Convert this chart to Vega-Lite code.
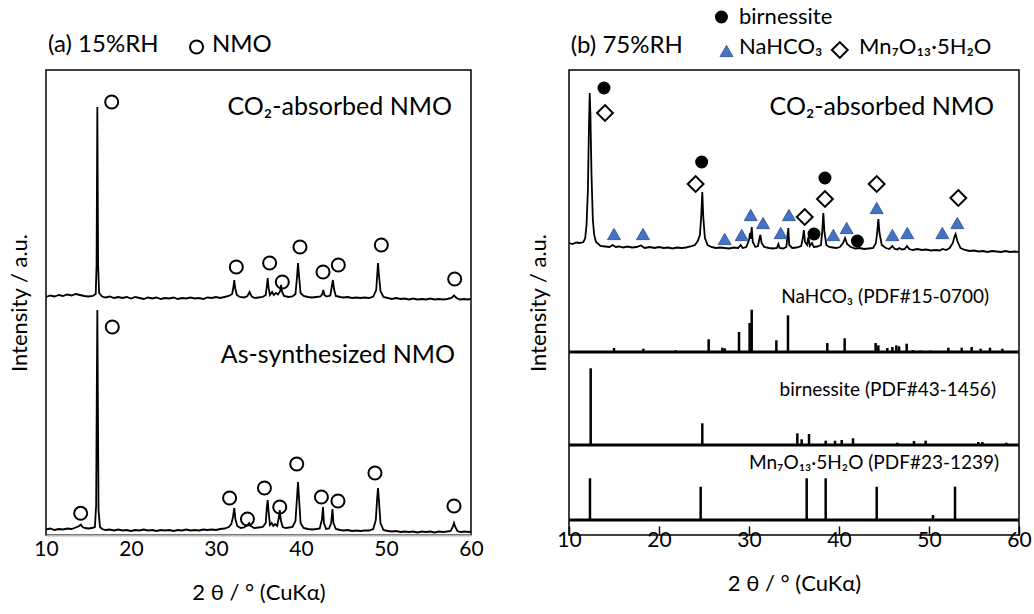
{
  "$schema": "https://vega.github.io/schema/vega-lite/v6.json",
  "background": "white",
  "padding": {"left": 7, "top": 5, "right": 10, "bottom": 10},
  "config": {
    "font": "Lato",
    "view": {"stroke": "black", "strokeWidth": 1.5},
    "axis": {"labelColor": "black", "titleColor": "black", "titleFontWeight": "normal", "grid": false, "labelFont": "Lato", "titleFont": "Lato"},
    "text": {"color": "black"}
  },
  "datasets": {
    "a_traces": [
      {"s":"c","x":10,"y":238},{"s":"c","x":10.5,"y":239.5},{"s":"c","x":11,"y":238.5},{"s":"c","x":11.5,"y":240},{"s":"c","x":12,"y":239},{"s":"c","x":12.5,"y":240.5},{"s":"c","x":13,"y":239.5},{"s":"c","x":13.5,"y":241},{"s":"c","x":14,"y":240},{"s":"c","x":14.5,"y":239},{"s":"c","x":15,"y":238.5},{"s":"c","x":15.5,"y":239},{"s":"c","x":15.85,"y":241},{"s":"c","x":15.95,"y":270},{"s":"c","x":16.0,"y":360},{"s":"c","x":16.04,"y":428},{"s":"c","x":16.08,"y":360},{"s":"c","x":16.13,"y":270},{"s":"c","x":16.25,"y":242},{"s":"c","x":16.6,"y":238.5},{"s":"c","x":17,"y":237.5},{"s":"c","x":17.5,"y":238.5},{"s":"c","x":18,"y":237},{"s":"c","x":18.5,"y":238},{"s":"c","x":19,"y":237},{"s":"c","x":19.5,"y":238},{"s":"c","x":20,"y":236.5},{"s":"c","x":20.5,"y":238},{"s":"c","x":21,"y":237},{"s":"c","x":21.5,"y":236},{"s":"c","x":22,"y":237.5},{"s":"c","x":22.5,"y":236.5},{"s":"c","x":23,"y":237.5},{"s":"c","x":23.5,"y":236},{"s":"c","x":24,"y":237},{"s":"c","x":24.5,"y":236.5},{"s":"c","x":25,"y":237.5},{"s":"c","x":25.5,"y":236},{"s":"c","x":26,"y":237},{"s":"c","x":26.5,"y":236.5},{"s":"c","x":27,"y":237.5},{"s":"c","x":27.5,"y":236.5},{"s":"c","x":28,"y":237},{"s":"c","x":28.5,"y":236},{"s":"c","x":29,"y":237.5},{"s":"c","x":29.5,"y":237},{"s":"c","x":30,"y":238},{"s":"c","x":30.5,"y":237},{"s":"c","x":31,"y":238},{"s":"c","x":31.5,"y":239},{"s":"c","x":31.9,"y":241},{"s":"c","x":32.05,"y":248},{"s":"c","x":32.15,"y":255},{"s":"c","x":32.25,"y":247},{"s":"c","x":32.45,"y":240},{"s":"c","x":32.8,"y":238},{"s":"c","x":33.3,"y":237.5},{"s":"c","x":33.7,"y":239},{"s":"c","x":33.95,"y":243},{"s":"c","x":34.2,"y":238.5},{"s":"c","x":34.6,"y":237},{"s":"c","x":35,"y":237.5},{"s":"c","x":35.5,"y":238},{"s":"c","x":35.85,"y":240},{"s":"c","x":36.0,"y":250},{"s":"c","x":36.08,"y":257},{"s":"c","x":36.17,"y":248},{"s":"c","x":36.35,"y":240},{"s":"c","x":36.6,"y":243},{"s":"c","x":36.8,"y":240},{"s":"c","x":37.05,"y":242},{"s":"c","x":37.3,"y":240.5},{"s":"c","x":37.55,"y":244},{"s":"c","x":37.65,"y":250},{"s":"c","x":37.78,"y":243},{"s":"c","x":38.0,"y":239},{"s":"c","x":38.5,"y":238},{"s":"c","x":39,"y":238.5},{"s":"c","x":39.35,"y":241},{"s":"c","x":39.55,"y":260},{"s":"c","x":39.65,"y":272},{"s":"c","x":39.78,"y":258},{"s":"c","x":39.95,"y":242},{"s":"c","x":40.3,"y":239},{"s":"c","x":40.8,"y":238},{"s":"c","x":41.3,"y":237.5},{"s":"c","x":41.8,"y":238},{"s":"c","x":42.3,"y":238.5},{"s":"c","x":42.5,"y":241},{"s":"c","x":42.63,"y":245},{"s":"c","x":42.75,"y":240},{"s":"c","x":43.0,"y":238.5},{"s":"c","x":43.45,"y":239.5},{"s":"c","x":43.65,"y":250},{"s":"c","x":43.76,"y":255},{"s":"c","x":43.88,"y":246},{"s":"c","x":44.1,"y":239},{"s":"c","x":44.6,"y":238},{"s":"c","x":45,"y":237.5},{"s":"c","x":45.5,"y":238},{"s":"c","x":46,"y":237},{"s":"c","x":46.5,"y":237.5},{"s":"c","x":47,"y":237},{"s":"c","x":47.5,"y":237.5},{"s":"c","x":48,"y":237},{"s":"c","x":48.5,"y":238.5},{"s":"c","x":48.85,"y":245},{"s":"c","x":48.98,"y":262},{"s":"c","x":49.06,"y":272},{"s":"c","x":49.15,"y":262},{"s":"c","x":49.35,"y":244},{"s":"c","x":49.7,"y":238},{"s":"c","x":50.2,"y":237},{"s":"c","x":50.7,"y":236},{"s":"c","x":51.2,"y":237},{"s":"c","x":51.7,"y":236},{"s":"c","x":52.2,"y":236.5},{"s":"c","x":52.7,"y":235.5},{"s":"c","x":53.2,"y":236.5},{"s":"c","x":53.7,"y":235.5},{"s":"c","x":54.2,"y":236},{"s":"c","x":54.7,"y":235.5},{"s":"c","x":55.2,"y":236.5},{"s":"c","x":55.7,"y":235.5},{"s":"c","x":56.2,"y":236},{"s":"c","x":56.7,"y":235.5},{"s":"c","x":57.2,"y":236},{"s":"c","x":57.7,"y":237},{"s":"c","x":58.0,"y":239.5},{"s":"c","x":58.3,"y":237},{"s":"c","x":58.7,"y":235.5},{"s":"c","x":59.2,"y":236},{"s":"c","x":59.6,"y":235.5},{"s":"c","x":60,"y":236},
      {"s":"a","x":10,"y":5.5},{"s":"a","x":10.5,"y":6.5},{"s":"a","x":11,"y":5},{"s":"a","x":11.5,"y":6},{"s":"a","x":12,"y":5.5},{"s":"a","x":12.5,"y":6.5},{"s":"a","x":13,"y":6},{"s":"a","x":13.5,"y":7.5},{"s":"a","x":13.9,"y":9},{"s":"a","x":14.1,"y":10.5},{"s":"a","x":14.3,"y":8},{"s":"a","x":14.6,"y":7},{"s":"a","x":15,"y":6.5},{"s":"a","x":15.4,"y":7},{"s":"a","x":15.75,"y":8},{"s":"a","x":15.9,"y":30},{"s":"a","x":15.98,"y":150},{"s":"a","x":16.04,"y":225},{"s":"a","x":16.1,"y":140},{"s":"a","x":16.18,"y":25},{"s":"a","x":16.35,"y":8},{"s":"a","x":16.6,"y":6},{"s":"a","x":17,"y":5},{"s":"a","x":17.5,"y":5.5},{"s":"a","x":18,"y":4.5},{"s":"a","x":18.5,"y":5.5},{"s":"a","x":19,"y":4.5},{"s":"a","x":19.5,"y":5},{"s":"a","x":20,"y":4},{"s":"a","x":20.5,"y":5},{"s":"a","x":21,"y":4.5},{"s":"a","x":21.5,"y":5.5},{"s":"a","x":22,"y":4.5},{"s":"a","x":22.5,"y":5},{"s":"a","x":23,"y":4},{"s":"a","x":23.5,"y":5},{"s":"a","x":24,"y":4.5},{"s":"a","x":24.5,"y":5},{"s":"a","x":25,"y":4},{"s":"a","x":25.5,"y":5},{"s":"a","x":26,"y":4.5},{"s":"a","x":26.5,"y":5.5},{"s":"a","x":27,"y":4.5},{"s":"a","x":27.5,"y":5},{"s":"a","x":28,"y":4.5},{"s":"a","x":28.5,"y":5.5},{"s":"a","x":29,"y":5},{"s":"a","x":29.5,"y":5.5},{"s":"a","x":30,"y":5},{"s":"a","x":30.5,"y":6},{"s":"a","x":31,"y":6.5},{"s":"a","x":31.5,"y":8},{"s":"a","x":31.8,"y":11},{"s":"a","x":32.0,"y":18},{"s":"a","x":32.15,"y":27},{"s":"a","x":32.28,"y":16},{"s":"a","x":32.5,"y":9},{"s":"a","x":32.9,"y":7},{"s":"a","x":33.3,"y":7.5},{"s":"a","x":33.7,"y":10},{"s":"a","x":33.9,"y":12},{"s":"a","x":34.1,"y":9},{"s":"a","x":34.5,"y":7},{"s":"a","x":35,"y":7.5},{"s":"a","x":35.5,"y":8},{"s":"a","x":35.85,"y":12},{"s":"a","x":35.98,"y":28},{"s":"a","x":36.08,"y":35},{"s":"a","x":36.18,"y":24},{"s":"a","x":36.35,"y":10},{"s":"a","x":36.55,"y":12},{"s":"a","x":36.75,"y":9},{"s":"a","x":36.95,"y":11},{"s":"a","x":37.2,"y":9},{"s":"a","x":37.4,"y":18},{"s":"a","x":37.5,"y":25},{"s":"a","x":37.62,"y":15},{"s":"a","x":37.85,"y":8},{"s":"a","x":38.2,"y":7},{"s":"a","x":38.6,"y":7.5},{"s":"a","x":39.0,"y":8},{"s":"a","x":39.35,"y":14},{"s":"a","x":39.55,"y":40},{"s":"a","x":39.65,"y":53},{"s":"a","x":39.76,"y":38},{"s":"a","x":39.95,"y":12},{"s":"a","x":40.3,"y":7},{"s":"a","x":40.8,"y":6},{"s":"a","x":41.3,"y":5.5},{"s":"a","x":41.8,"y":6},{"s":"a","x":42.2,"y":6.5},{"s":"a","x":42.45,"y":15},{"s":"a","x":42.59,"y":28},{"s":"a","x":42.7,"y":12},{"s":"a","x":42.95,"y":6},{"s":"a","x":43.3,"y":6.5},{"s":"a","x":43.55,"y":12},{"s":"a","x":43.7,"y":26},{"s":"a","x":43.82,"y":12},{"s":"a","x":44.1,"y":6},{"s":"a","x":44.6,"y":5},{"s":"a","x":45,"y":4.5},{"s":"a","x":45.5,"y":5},{"s":"a","x":46,"y":4},{"s":"a","x":46.5,"y":4.5},{"s":"a","x":47,"y":4},{"s":"a","x":47.5,"y":4.5},{"s":"a","x":48,"y":4.5},{"s":"a","x":48.5,"y":6},{"s":"a","x":48.8,"y":15},{"s":"a","x":48.97,"y":38},{"s":"a","x":49.06,"y":47},{"s":"a","x":49.15,"y":37},{"s":"a","x":49.35,"y":12},{"s":"a","x":49.7,"y":5},{"s":"a","x":50.2,"y":4},{"s":"a","x":50.7,"y":3.5},{"s":"a","x":51.2,"y":4},{"s":"a","x":51.7,"y":3},{"s":"a","x":52.2,"y":3.5},{"s":"a","x":52.7,"y":3},{"s":"a","x":53.2,"y":3.5},{"s":"a","x":53.7,"y":2.5},{"s":"a","x":54.2,"y":3.5},{"s":"a","x":54.7,"y":3},{"s":"a","x":55.2,"y":3.5},{"s":"a","x":55.7,"y":2.5},{"s":"a","x":56.2,"y":3.5},{"s":"a","x":56.7,"y":3},{"s":"a","x":57.2,"y":3.5},{"s":"a","x":57.6,"y":4},{"s":"a","x":57.85,"y":8},{"s":"a","x":58.0,"y":12},{"s":"a","x":58.15,"y":8},{"s":"a","x":58.4,"y":4},{"s":"a","x":58.8,"y":3},{"s":"a","x":59.3,"y":3.5},{"s":"a","x":59.7,"y":3},{"s":"a","x":60,"y":3.5}
    ],
    "a_marks": [
      {"x":17.73,"y":433},{"x":32.39,"y":268},{"x":36.31,"y":272},{"x":37.8,"y":253},{"x":39.88,"y":288},{"x":42.59,"y":263},{"x":44.39,"y":270},{"x":49.45,"y":290},{"x":58.08,"y":256},
      {"x":14.08,"y":21.7},{"x":17.8,"y":208},{"x":31.6,"y":37},{"x":33.7,"y":16},{"x":35.7,"y":47},{"x":37.5,"y":28},{"x":39.5,"y":71},{"x":42.4,"y":38},{"x":44.35,"y":34},{"x":48.7,"y":62},{"x":58.0,"y":29},
      {"x":27.71,"y":488}
    ],
    "a_text_left": [
      {"t":"(a) 15%RH","x":10.24,"y":490},
      {"t":"NMO","x":29.53,"y":490}
    ],
    "a_text_right": [
      {"t":"CO₂-absorbed NMO","x":57.76,"y":428},
      {"t":"As-synthesized NMO","x":58.12,"y":180}
    ],
    "b_trace": [
      {"x":10,"y":292},{"x":10.4,"y":291},{"x":10.8,"y":292.5},{"x":11.2,"y":292},{"x":11.6,"y":293},{"x":11.8,"y":297},{"x":11.95,"y":310},{"x":12.1,"y":345},{"x":12.2,"y":400},{"x":12.3,"y":442},{"x":12.38,"y":420},{"x":12.5,"y":360},{"x":12.65,"y":315},{"x":12.8,"y":300},{"x":13.0,"y":293},{"x":13.5,"y":289},{"x":14,"y":288.5},{"x":14.5,"y":288},{"x":14.85,"y":290},{"x":15.2,"y":288},{"x":15.6,"y":288.5},{"x":16,"y":287.5},{"x":16.5,"y":288.5},{"x":17,"y":287.5},{"x":17.5,"y":288},{"x":18.0,"y":289.5},{"x":18.4,"y":287},{"x":19,"y":288},{"x":19.5,"y":287},{"x":20,"y":288},{"x":20.5,"y":287},{"x":21,"y":287.5},{"x":21.5,"y":286.5},{"x":22,"y":287.5},{"x":22.5,"y":287},{"x":23,"y":287.5},{"x":23.5,"y":288.5},{"x":24.0,"y":290},{"x":24.3,"y":294},{"x":24.55,"y":300},{"x":24.7,"y":320},{"x":24.81,"y":343},{"x":24.92,"y":318},{"x":25.1,"y":297},{"x":25.4,"y":290},{"x":25.8,"y":288},{"x":26.3,"y":287},{"x":26.8,"y":287.5},{"x":27.3,"y":287},{"x":27.8,"y":286.5},{"x":28.3,"y":287.5},{"x":28.8,"y":287},{"x":29.07,"y":290},{"x":29.3,"y":287},{"x":29.7,"y":288},{"x":30.0,"y":295},{"x":30.12,"y":302},{"x":30.2,"y":296},{"x":30.3,"y":308},{"x":30.42,"y":293},{"x":30.7,"y":288},{"x":31.0,"y":289},{"x":31.15,"y":296},{"x":31.26,"y":300},{"x":31.4,"y":292},{"x":31.7,"y":288},{"x":32.2,"y":287},{"x":32.7,"y":286.5},{"x":33.1,"y":287},{"x":33.26,"y":291},{"x":33.4,"y":287},{"x":33.8,"y":286.5},{"x":34.15,"y":288},{"x":34.28,"y":300},{"x":34.37,"y":307},{"x":34.47,"y":290},{"x":34.8,"y":287},{"x":35.3,"y":287.5},{"x":35.8,"y":289},{"x":36.0,"y":298},{"x":36.1,"y":305},{"x":36.22,"y":293},{"x":36.45,"y":290},{"x":36.6,"y":298},{"x":36.75,"y":289},{"x":37.0,"y":292},{"x":37.2,"y":288},{"x":37.6,"y":288.5},{"x":38.0,"y":290},{"x":38.15,"y":305},{"x":38.26,"y":322},{"x":38.38,"y":303},{"x":38.6,"y":290},{"x":38.9,"y":288},{"x":39.3,"y":287.5},{"x":39.7,"y":287},{"x":40.1,"y":288},{"x":40.45,"y":292},{"x":40.67,"y":297},{"x":40.9,"y":291},{"x":41.3,"y":288},{"x":41.8,"y":286.5},{"x":42.3,"y":287},{"x":42.8,"y":286},{"x":43.3,"y":286.5},{"x":43.8,"y":287},{"x":44.1,"y":292},{"x":44.25,"y":303},{"x":44.37,"y":316},{"x":44.5,"y":302},{"x":44.75,"y":290},{"x":45.2,"y":287},{"x":45.6,"y":286},{"x":45.93,"y":289},{"x":46.2,"y":286},{"x":46.5,"y":285.5},{"x":46.7,"y":287},{"x":47.0,"y":285.5},{"x":47.3,"y":286},{"x":47.55,"y":289},{"x":47.8,"y":286},{"x":48.2,"y":285},{"x":48.7,"y":286},{"x":49.2,"y":285},{"x":49.7,"y":285.5},{"x":50.2,"y":284.5},{"x":50.7,"y":285},{"x":51.2,"y":284.5},{"x":51.5,"y":286},{"x":51.9,"y":285},{"x":52.3,"y":287},{"x":52.65,"y":292},{"x":52.85,"y":299},{"x":52.96,"y":301},{"x":53.15,"y":294},{"x":53.5,"y":287},{"x":54,"y":285},{"x":54.5,"y":284},{"x":55,"y":284.5},{"x":55.5,"y":283.5},{"x":56,"y":284},{"x":56.5,"y":283},{"x":57,"y":284},{"x":57.5,"y":283.5},{"x":58,"y":283},{"x":58.5,"y":284},{"x":59,"y":283},{"x":59.5,"y":283.5},{"x":60,"y":283}
    ],
    "b_sep": [{"y":183},{"y":90},{"y":15}],
    "b_ref": [
      {"ref":"NaHCO3","x":15.0,"y0":183,"y1":187},{"ref":"NaHCO3","x":18.26,"y0":183,"y1":186.3},{"ref":"NaHCO3","x":21.85,"y0":183,"y1":184.7},{"ref":"NaHCO3","x":23.81,"y0":183,"y1":184},{"ref":"NaHCO3","x":25.52,"y0":183,"y1":195.7},{"ref":"NaHCO3","x":27.04,"y0":183,"y1":187.3},{"ref":"NaHCO3","x":27.3,"y0":183,"y1":186.7},{"ref":"NaHCO3","x":28.89,"y0":183,"y1":203},{"ref":"NaHCO3","x":30.07,"y0":183,"y1":212},{"ref":"NaHCO3","x":30.3,"y0":183,"y1":225.3},{"ref":"NaHCO3","x":33.04,"y0":183,"y1":194.7},{"ref":"NaHCO3","x":34.33,"y0":183,"y1":219.7},{"ref":"NaHCO3","x":37.22,"y0":183,"y1":184},{"ref":"NaHCO3","x":38.7,"y0":183,"y1":192},{"ref":"NaHCO3","x":40.63,"y0":183,"y1":196.7},{"ref":"NaHCO3","x":44.07,"y0":183,"y1":192},{"ref":"NaHCO3","x":44.37,"y0":183,"y1":189.7},{"ref":"NaHCO3","x":45.37,"y0":183,"y1":187},{"ref":"NaHCO3","x":45.93,"y0":183,"y1":188},{"ref":"NaHCO3","x":46.37,"y0":183,"y1":189.7},{"ref":"NaHCO3","x":46.67,"y0":183,"y1":188.7},{"ref":"NaHCO3","x":47.52,"y0":183,"y1":191.3},{"ref":"NaHCO3","x":48.22,"y0":183,"y1":185},{"ref":"NaHCO3","x":49.07,"y0":183,"y1":184.5},{"ref":"NaHCO3","x":50.19,"y0":183,"y1":184.5},{"ref":"NaHCO3","x":52.15,"y0":183,"y1":187.3},{"ref":"NaHCO3","x":53.63,"y0":183,"y1":187.3},{"ref":"NaHCO3","x":54.74,"y0":183,"y1":188},{"ref":"NaHCO3","x":55.74,"y0":183,"y1":186.3},{"ref":"NaHCO3","x":56.78,"y0":183,"y1":187.3},{"ref":"NaHCO3","x":58.15,"y0":183,"y1":186.3},
      {"ref":"birnessite","x":12.41,"y0":90,"y1":166.7},{"ref":"birnessite","x":24.81,"y0":90,"y1":111.7},{"ref":"birnessite","x":35.37,"y0":90,"y1":101.7},{"ref":"birnessite","x":35.85,"y0":90,"y1":95.7},{"ref":"birnessite","x":36.67,"y0":90,"y1":101},{"ref":"birnessite","x":38.52,"y0":90,"y1":94.3},{"ref":"birnessite","x":39.56,"y0":90,"y1":94.3},{"ref":"birnessite","x":40.3,"y0":90,"y1":95},{"ref":"birnessite","x":41.56,"y0":90,"y1":96.7},{"ref":"birnessite","x":46.48,"y0":90,"y1":92.3},{"ref":"birnessite","x":48.33,"y0":90,"y1":94},{"ref":"birnessite","x":49.63,"y0":90,"y1":94.3},{"ref":"birnessite","x":55.48,"y0":90,"y1":93},{"ref":"birnessite","x":55.93,"y0":90,"y1":93},{"ref":"birnessite","x":58.59,"y0":90,"y1":92.3},
      {"ref":"Mn7O13","x":12.33,"y0":15,"y1":56.7},{"ref":"Mn7O13","x":24.63,"y0":15,"y1":48.3},{"ref":"Mn7O13","x":36.41,"y0":15,"y1":56.7},{"ref":"Mn7O13","x":38.52,"y0":15,"y1":56.7},{"ref":"Mn7O13","x":44.19,"y0":15,"y1":48.3},{"ref":"Mn7O13","x":50.44,"y0":15,"y1":20},{"ref":"Mn7O13","x":52.89,"y0":15,"y1":48.3}
    ],
    "b_marks": [
      {"phase":"bir","x":13.89,"y":447},{"phase":"bir","x":24.74,"y":373},{"phase":"bir","x":38.44,"y":357},{"phase":"bir","x":37.22,"y":301},{"phase":"bir","x":42.04,"y":294},{"phase":"bir","x":26.94,"y":518},
      {"phase":"mn","x":14.0,"y":422},{"phase":"mn","x":24.07,"y":351},{"phase":"mn","x":38.44,"y":336},{"phase":"mn","x":36.19,"y":318},{"phase":"mn","x":44.19,"y":351},{"phase":"mn","x":53.26,"y":337},{"phase":"mn","x":40.09,"y":485},
      {"phase":"nah","x":15.0,"y":301},{"phase":"nah","x":18.22,"y":301},{"phase":"nah","x":27.3,"y":296},{"phase":"nah","x":29.19,"y":300},{"phase":"nah","x":30.19,"y":320},{"phase":"nah","x":31.56,"y":312},{"phase":"nah","x":33.52,"y":302},{"phase":"nah","x":34.44,"y":320},{"phase":"nah","x":39.37,"y":300},{"phase":"nah","x":40.85,"y":307},{"phase":"nah","x":44.19,"y":327},{"phase":"nah","x":45.93,"y":300},{"phase":"nah","x":47.59,"y":302},{"phase":"nah","x":51.48,"y":302},{"phase":"nah","x":53.15,"y":312},{"phase":"nah","x":27.5,"y":484}
    ],
    "b_text_title": [
      {"t":"(b) 75%RH","x":10.19,"y":489}
    ],
    "b_text_legend": [
      {"t":"birnessite","x":28.89,"y":518},
      {"t":"NaHCO₃","x":28.89,"y":488},
      {"t":"Mn₇O₁₃·5H₂O","x":42.22,"y":488}
    ],
    "b_text_big": [
      {"t":"CO₂-absorbed NMO","x":57.22,"y":428}
    ],
    "b_text_ref": [
      {"t":"NaHCO₃ (PDF#15-0700)","x":56.67,"y":238},
      {"t":"birnessite (PDF#43-1456)","x":57.44,"y":145},
      {"t":"Mn₇O₁₃·5H₂O (PDF#23-1239)","x":57.8,"y":72}
    ]
  },
  "bounds": "flush",
  "spacing": 98,
  "hconcat": [
    {
      "width": 425,
      "height": 465,
      "layer": [
        {
          "data": {"name": "a_traces"},
          "mark": {"type": "line", "color": "black", "strokeWidth": 1.8},
          "encoding": {
            "x": {"field": "x", "type": "quantitative", "scale": {"domain": [10, 60], "nice": false, "zero": false},
                  "axis": {"title": "2 θ / °  (CuKα)", "values": [10, 20, 30, 40, 50, 60], "ticks": false, "domainColor": "#b4b4b4", "domainWidth": 2, "labelFontSize": 21, "labelPadding": 3, "labelFlush": false, "labelOverlap": false, "titleFontSize": 22, "titlePadding": 23}},
            "y": {"field": "y", "type": "quantitative", "scale": {"domain": [0, 465], "nice": false, "zero": false},
                  "axis": {"title": "Intensity / a.u.", "labels": false, "ticks": false, "domain": false, "titleFontSize": 22, "titlePadding": 15}},
            "detail": {"field": "s"}
          }
        },
        {
          "data": {"name": "a_marks"},
          "mark": {"type": "point", "shape": "circle", "filled": false, "stroke": "black", "strokeWidth": 2, "size": 170, "opacity": 1, "clip": false},
          "encoding": {"x": {"field": "x", "type": "quantitative"}, "y": {"field": "y", "type": "quantitative"}}
        },
        {
          "data": {"name": "a_text_left"},
          "mark": {"type": "text", "align": "left", "baseline": "middle", "fontSize": 24},
          "encoding": {"x": {"field": "x", "type": "quantitative"}, "y": {"field": "y", "type": "quantitative"}, "text": {"field": "t"}}
        },
        {
          "data": {"name": "a_text_right"},
          "mark": {"type": "text", "align": "right", "baseline": "middle", "fontSize": 25},
          "encoding": {"x": {"field": "x", "type": "quantitative"}, "y": {"field": "y", "type": "quantitative"}, "text": {"field": "t"}}
        }
      ]
    },
    {
      "width": 450,
      "height": 465,
      "layer": [
        {
          "data": {"name": "b_trace"},
          "mark": {"type": "line", "color": "black", "strokeWidth": 1.8},
          "encoding": {
            "x": {"field": "x", "type": "quantitative", "scale": {"domain": [10, 60], "nice": false, "zero": false},
                  "axis": {"title": "2 θ / °  (CuKα)", "values": [10, 20, 30, 40, 50, 60], "tickSize": -9, "tickColor": "black", "tickWidth": 1.5, "domain": false, "labelFontSize": 21, "labelPadding": 3, "labelFlush": false, "labelOverlap": false, "titleFontSize": 22, "titlePadding": 23}},
            "y": {"field": "y", "type": "quantitative", "scale": {"domain": [0, 465], "nice": false, "zero": false},
                  "axis": {"title": "Intensity / a.u.", "labels": false, "ticks": false, "domain": false, "titleFontSize": 22, "titlePadding": 19}}
          }
        },
        {
          "data": {"name": "b_sep"},
          "mark": {"type": "rule", "color": "black", "strokeWidth": 3},
          "encoding": {"x": {"datum": 10, "type": "quantitative"}, "x2": {"datum": 60}, "y": {"field": "y", "type": "quantitative"}}
        },
        {
          "data": {"name": "b_ref"},
          "mark": {"type": "rule", "color": "black", "strokeWidth": 2.5},
          "encoding": {"x": {"field": "x", "type": "quantitative"}, "y": {"field": "y0", "type": "quantitative"}, "y2": {"field": "y1"}, "detail": {"field": "ref"}}
        },
        {
          "data": {"name": "b_marks"},
          "transform": [{"filter": "datum.phase === 'bir'"}],
          "mark": {"type": "point", "shape": "circle", "filled": true, "color": "black", "size": 169, "opacity": 1, "clip": false},
          "encoding": {"x": {"field": "x", "type": "quantitative"}, "y": {"field": "y", "type": "quantitative"}}
        },
        {
          "data": {"name": "b_marks"},
          "transform": [{"filter": "datum.phase === 'mn'"}],
          "mark": {"type": "point", "shape": "diamond", "filled": false, "stroke": "black", "strokeWidth": 2, "size": 250, "opacity": 1, "clip": false},
          "encoding": {"x": {"field": "x", "type": "quantitative"}, "y": {"field": "y", "type": "quantitative"}}
        },
        {
          "data": {"name": "b_marks"},
          "transform": [{"filter": "datum.phase === 'nah'"}],
          "mark": {"type": "point", "shape": "triangle-up", "filled": true, "fill": "#4472c4", "stroke": "#2f528f", "strokeWidth": 0.8, "size": 170, "opacity": 1, "clip": false},
          "encoding": {"x": {"field": "x", "type": "quantitative"}, "y": {"field": "y", "type": "quantitative"}}
        },
        {
          "data": {"name": "b_text_title"},
          "mark": {"type": "text", "align": "left", "baseline": "middle", "fontSize": 24},
          "encoding": {"x": {"field": "x", "type": "quantitative"}, "y": {"field": "y", "type": "quantitative"}, "text": {"field": "t"}}
        },
        {
          "data": {"name": "b_text_legend"},
          "mark": {"type": "text", "align": "left", "baseline": "middle", "fontSize": 22},
          "encoding": {"x": {"field": "x", "type": "quantitative"}, "y": {"field": "y", "type": "quantitative"}, "text": {"field": "t"}}
        },
        {
          "data": {"name": "b_text_big"},
          "mark": {"type": "text", "align": "right", "baseline": "middle", "fontSize": 25},
          "encoding": {"x": {"field": "x", "type": "quantitative"}, "y": {"field": "y", "type": "quantitative"}, "text": {"field": "t"}}
        },
        {
          "data": {"name": "b_text_ref"},
          "mark": {"type": "text", "align": "right", "baseline": "middle", "fontSize": 19},
          "encoding": {"x": {"field": "x", "type": "quantitative"}, "y": {"field": "y", "type": "quantitative"}, "text": {"field": "t"}}
        }
      ]
    }
  ]
}
